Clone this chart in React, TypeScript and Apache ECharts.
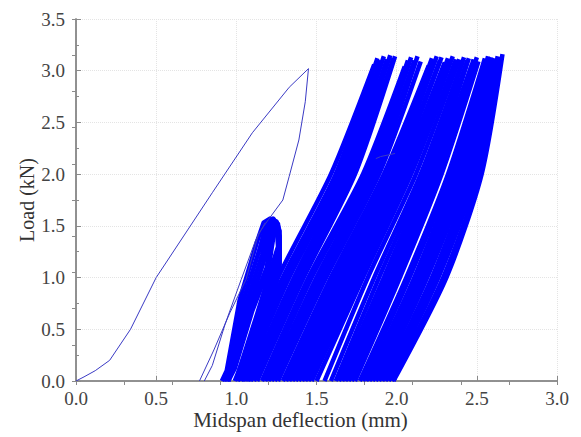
import React, { useEffect, useRef } from "react";
import * as echarts from "echarts";

// Axis ticks
const xTicks = [0, 0.5, 1.0, 1.5, 2.0, 2.5, 3.0];
const yTicks = [0, 0.5, 1.0, 1.5, 2.0, 2.5, 3.0, 3.5];

// First (monotonic) loading and unloading branch
const firstLoading = [
  [0, 0], [0.05, 0.04], [0.12, 0.1], [0.21, 0.2], [0.34, 0.5], [0.5, 1.0],
  [0.85, 1.82], [1.1, 2.4], [1.33, 2.84], [1.45, 3.02],
];
const firstUnloading = [
  [1.45, 3.02], [1.43, 2.7], [1.39, 2.33], [1.33, 1.98], [1.29, 1.75], [1.2, 1.56],
  [1.14, 1.43], [1.06, 0.98], [0.96, 0.66], [0.86, 0.3], [0.77, 0],
];
const secondLoading = [
  [0.8, 0], [0.85, 0.15], [0.93, 0.55], [1.03, 0.98], [1.12, 1.36], [1.18, 1.53],
];
const partialLoop = [[1.87, 2.15], [1.9, 2.17], [1.99, 2.2]];

// Early low-peak cycles (peak ~1.55 kN)
const earlyLoops = [
  [[0.91, 0], [0.94, 0.1], [1.02, 0.78], [1.13, 1.35], [1.17, 1.53], [1.21, 1.57], [1.25, 1.54], [1.26, 1.3], [1.22, 1.1], [1.12, 0.6], [1.02, 0.12], [1.0, 0]],
  [[0.92, 0], [0.95, 0.1], [1.04, 0.76], [1.15, 1.3], [1.19, 1.54], [1.22, 1.56], [1.26, 1.52], [1.27, 1.28], [1.23, 1.08], [1.13, 0.58], [1.03, 0.1], [1.01, 0]],
  [[0.93, 0], [0.96, 0.1], [1.06, 0.74], [1.16, 1.22], [1.2, 1.5], [1.23, 1.57], [1.26, 1.5], [1.27, 1.24], [1.24, 1.08], [1.14, 0.58], [1.05, 0.1], [1.03, 0]],
  [[0.94, 0], [0.97, 0.11], [1.08, 0.72], [1.17, 1.15], [1.21, 1.46], [1.24, 1.55], [1.26, 1.48], [1.27, 1.2], [1.25, 1.06], [1.16, 0.6], [1.06, 0.1], [1.04, 0]],
  [[0.95, 0], [0.98, 0.12], [1.09, 0.7], [1.19, 1.1], [1.22, 1.42], [1.25, 1.54], [1.27, 1.45], [1.27, 1.15], [1.26, 1.05], [1.17, 0.6], [1.08, 0.1], [1.06, 0]],
  [[0.95, 0], [0.99, 0.12], [1.1, 0.68], [1.2, 1.08], [1.23, 1.38], [1.25, 1.5], [1.27, 1.4], [1.27, 1.12], [1.25, 0.95], [1.18, 0.62], [1.1, 0.1], [1.08, 0]],
];

// Repeated cycles up to ~3.1 kN: deflection at 0, 1.0, 2.0 kN and at the peak
const cycleLevels = [0, 1.0, 2.0];
const cycleBase = [
  0.99, 1.01, 1.03, 1.05, 1.07, 1.09, 1.11, 1.13,
  1.16, 1.18, 1.2, 1.22, 1.24, 1.26,
  1.29, 1.31, 1.33, 1.35, 1.37, 1.39, 1.41, 1.43, 1.45, 1.47, 1.5,
  1.55, 1.59, 1.62, 1.64, 1.66, 1.68, 1.7, 1.72, 1.74,
  1.77, 1.79, 1.81, 1.83, 1.85, 1.87, 1.89, 1.91, 1.93, 1.95, 1.97, 1.98,
];
const cycleX1 = [
  1.26, 1.29, 1.31, 1.33, 1.36, 1.38, 1.4, 1.42,
  1.45, 1.47, 1.5, 1.52, 1.54, 1.56,
  1.59, 1.61, 1.63, 1.65, 1.67, 1.69, 1.71, 1.73, 1.75, 1.77, 1.79,
  1.82, 1.86, 1.89, 1.92, 1.94, 1.96, 1.98, 2.0, 2.02,
  2.06, 2.08, 2.11, 2.13, 2.15, 2.17, 2.19, 2.22, 2.24, 2.26, 2.29, 2.31,
];
const cycleX2 = [
  1.59, 1.62, 1.64, 1.66, 1.68, 1.7, 1.72, 1.74,
  1.79, 1.81, 1.83, 1.85, 1.87, 1.89,
  1.92, 1.94, 1.95, 1.97, 1.99, 2.0, 2.02, 2.04, 2.05, 2.07, 2.09,
  2.12, 2.15, 2.17, 2.19, 2.21, 2.22, 2.24, 2.26, 2.28,
  2.32, 2.34, 2.36, 2.38, 2.4, 2.42, 2.44, 2.46, 2.48, 2.5, 2.52, 2.53,
];
const cycleTopX = [
  1.86, 1.88, 1.9, 1.92, 1.94, 1.96, 1.98, 1.99,
  2.05, 2.07, 2.09, 2.11, 2.13, 2.15,
  2.2, 2.22, 2.23, 2.25, 2.27, 2.28, 2.3, 2.32, 2.33, 2.35, 2.37,
  2.39, 2.41, 2.42, 2.44, 2.45, 2.47, 2.48, 2.5, 2.51,
  2.55, 2.56, 2.57, 2.58, 2.59, 2.6, 2.61, 2.62, 2.63, 2.64, 2.65, 2.66,
];
const cycleTopY = [
  3.06, 3.12, 3.1, 3.14, 3.11, 3.15, 3.12, 3.14,
  3.04, 3.1, 3.13, 3.1, 3.14, 3.09,
  3.05, 3.12, 3.09, 3.14, 3.1, 3.13, 3.08, 3.12, 3.1, 3.14, 3.11,
  3.11, 3.09, 3.13, 3.1, 3.12, 3.06, 3.11, 3.13, 3.09,
  3.12, 3.1, 3.14, 3.11, 3.13, 3.08, 3.12, 3.1, 3.14, 3.11, 3.13, 3.16,
];

const BLUE = "#0000ff";
const THIN = "#3a3ac4";
const FONT = "Liberation Serif";

export default function App() {
  const ref = useRef<HTMLDivElement>(null);

  useEffect(() => {
    if (!ref.current) return;
    const chart = echarts.init(ref.current, null, { renderer: "svg" });

    const thinSeries = [firstLoading, firstUnloading, secondLoading, partialLoop].map((d) => ({
      type: "line",
      data: d,
      showSymbol: false,
      lineStyle: { color: THIN, width: 1 },
      z: 3,
      silent: true,
    }));

    const earlySeries = earlyLoops.map((d) => ({
      type: "line",
      data: d,
      showSymbol: false,
      lineStyle: { color: BLUE, width: 4.5, join: "round" },
      z: 2,
      silent: true,
    }));

    const cycleSeries = cycleBase.map((b, i) => ({
      type: "line",
      data: [
        [b, cycleLevels[0]],
        [cycleX1[i], cycleLevels[1]],
        [cycleX2[i], cycleLevels[2]],
        [cycleTopX[i], cycleTopY[i]],
      ],
      smooth: 0.25,
      showSymbol: false,
      lineStyle: { color: BLUE, width: 4.5 },
      z: 2,
      silent: true,
    }));

    const axisLine = { show: true, lineStyle: { color: "#8a8a8a", width: 1.5 } };
    const tickStyle = { color: "#8a8a8a", width: 1 };

    chart.setOption({
      animation: false,
      backgroundColor: "#ffffff",
      textStyle: { fontFamily: FONT },
      grid: { left: 76, right: 24, top: 19, bottom: 56, containLabel: false },
      xAxis: [
        {
          type: "value",
          position: "bottom",
          min: xTicks[0],
          max: xTicks[xTicks.length - 1],
          interval: 0.5,
          name: "Midspan deflection (mm)",
          nameLocation: "middle",
          nameGap: 29,
          nameMoveOverlap: false,
          nameTextStyle: {
            fontFamily: FONT,
            fontSize: 21,
            lineHeight: 20,
            color: "#333",
            padding: [0, 32, 0, 0],
          },
          axisLine,
          axisTick: { show: true, inside: true, length: 5, lineStyle: tickStyle },
          axisLabel: {
            fontFamily: FONT,
            fontSize: 19,
            lineHeight: 19,
            color: "#444",
            margin: 8,
            formatter: (v: number) => v.toFixed(1),
          },
          splitLine: { show: true, lineStyle: { color: "#e4e4e4", type: "dotted", width: 1 } },
        },
        {
          type: "value",
          position: "top",
          min: 0,
          max: 3,
          interval: 0.3,
          axisLine,
          axisTick: { show: true, inside: true, length: 4, lineStyle: tickStyle },
          axisLabel: { show: false },
          splitLine: { show: false },
        },
      ],
      yAxis: [
        {
          type: "value",
          position: "left",
          min: yTicks[0],
          max: yTicks[yTicks.length - 1],
          interval: 0.5,
          name: "Load (kN)",
          nameLocation: "middle",
          nameGap: 39,
          nameMoveOverlap: false,
          nameTextStyle: { fontFamily: FONT, fontSize: 20, color: "#333" },
          axisLine,
          axisTick: { show: true, inside: true, length: 5, lineStyle: tickStyle },
          minorTick: { show: true, splitNumber: 2, length: 3, lineStyle: tickStyle },
          axisLabel: {
            fontFamily: FONT,
            fontSize: 19,
            color: "#444",
            margin: 11,
            formatter: (v: number) => v.toFixed(1),
          },
          splitLine: { show: true, lineStyle: { color: "#e4e4e4", type: "dotted", width: 1 } },
        },
        {
          type: "value",
          position: "right",
          min: 0,
          max: 3.5,
          interval: 0.35,
          axisLine,
          axisTick: { show: true, inside: true, length: 4, lineStyle: tickStyle },
          axisLabel: { show: false },
          splitLine: { show: false },
        },
      ],
      series: [...earlySeries, ...cycleSeries, ...thinSeries],
    });

    return () => chart.dispose();
  }, []);

  return (
    <div
      ref={ref}
      style={{ position: "fixed", left: 0, top: 0, width: 581, height: 437, background: "#fff" }}
    />
  );
}
